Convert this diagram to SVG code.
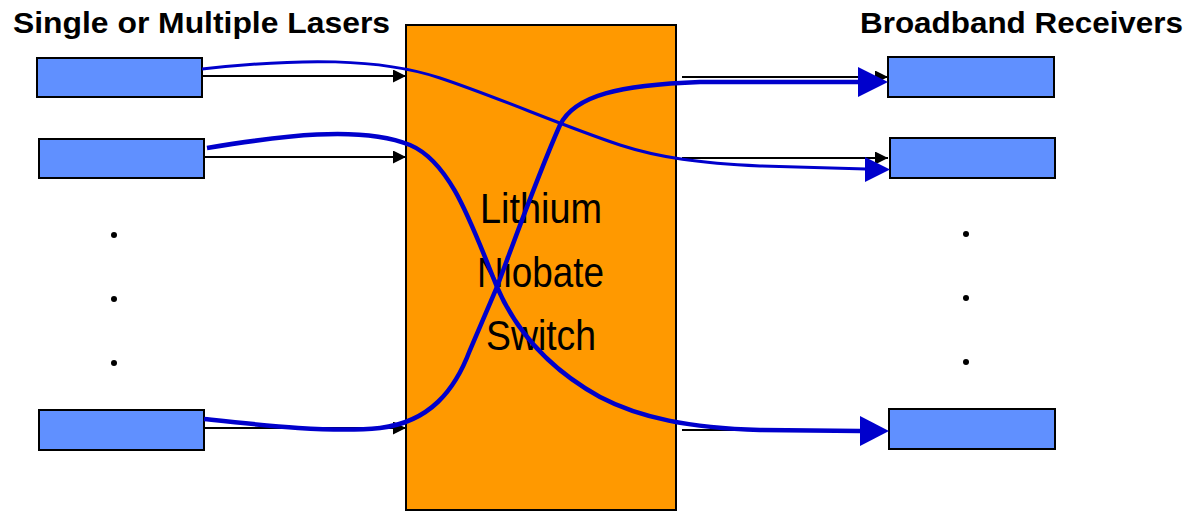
<svg xmlns="http://www.w3.org/2000/svg" width="1190" height="511" viewBox="0 0 1190 511">
<style>
.box{fill:#6090FF;stroke:#000;stroke-width:2}
.sw{fill:#FF9900;stroke:#000;stroke-width:2}
.blk{stroke:#000;stroke-width:2;fill:none}
.bl{stroke:#0000CC;fill:none;stroke-linecap:butt}
.ah{fill:#0000CC}
.title{font-family:"Liberation Sans",Arial,sans-serif;font-weight:bold;font-size:29px;fill:#000}
.lbl{font-family:"Liberation Sans Narrow","Liberation Sans",Arial,sans-serif;font-size:42px;fill:#000}
.dot{fill:#000}
</style>
<defs>
<marker id="ba" markerWidth="13" markerHeight="13" refX="13" refY="6.5" orient="auto" markerUnits="userSpaceOnUse">
<path d="M0,0 L13,6.5 L0,13 z" fill="#000"/>
</marker>
</defs>
<text class="title" x="13" y="33" textLength="377" lengthAdjust="spacingAndGlyphs">Single or Multiple Lasers</text>
<text class="title" x="860" y="33" textLength="323" lengthAdjust="spacingAndGlyphs">Broadband Receivers</text>
<g id="switch">
<rect class="sw" x="406" y="25" width="270" height="485"/>
<text class="lbl" x="480" y="223" textLength="122" lengthAdjust="spacingAndGlyphs">Lithium</text>
<text class="lbl" x="477" y="287" textLength="127" lengthAdjust="spacingAndGlyphs">Niobate</text>
<text class="lbl" x="486" y="350" textLength="110" lengthAdjust="spacingAndGlyphs">Switch</text>
</g>
<g id="laser1"><rect class="box" x="37" y="58" width="165" height="39"/></g>
<g id="laser2"><rect class="box" x="39" y="139" width="165" height="39"/></g>
<g id="laser3"><rect class="box" x="39" y="410" width="165" height="40"/></g>
<g id="rx1"><rect class="box" x="888" y="57" width="166" height="40"/></g>
<g id="rx2"><rect class="box" x="890" y="138" width="165" height="40"/></g>
<g id="rx3"><rect class="box" x="889" y="409" width="166" height="40"/></g>
<g id="dots">
<circle class="dot" cx="114" cy="235" r="3"/>
<circle class="dot" cx="114" cy="299" r="3"/>
<circle class="dot" cx="114" cy="363" r="3"/>
<circle class="dot" cx="966" cy="234" r="3"/>
<circle class="dot" cx="966" cy="298" r="3"/>
<circle class="dot" cx="966" cy="362" r="3"/>
</g>
<g id="connectors">
<line class="blk" x1="202" y1="76" x2="406" y2="76" marker-end="url(#ba)"/>
<line class="blk" x1="204" y1="157" x2="406" y2="157" marker-end="url(#ba)"/>
<line class="blk" x1="204" y1="428" x2="406" y2="428" marker-end="url(#ba)"/>
<line class="blk" x1="682" y1="77" x2="888" y2="77" marker-end="url(#ba)"/>
<line class="blk" x1="682" y1="158" x2="888" y2="158" marker-end="url(#ba)"/>
<line class="blk" x1="682" y1="430" x2="860" y2="430"/>
<path class="bl" stroke-width="3" d="M202,69 C300,58 380,58 440,78 C500,98 560,125 620,145 C660,158 700,163 760,166 L866,169"/>
<polygon class="ah" points="865,157 890,169.5 865,182"/>
<path class="bl" stroke-width="4.5" d="M207,148 C280,136 360,125 410,145 C450,162 470,220 497,287 C520,340 560,375 600,397 C640,418 690,428 760,430 L860,431"/>
<polygon class="ah" points="860,416 889,431 860,446"/>
<path class="bl" stroke-width="4.5" d="M204,419 C260,425 330,433 380,428 C430,422 455,390 470,350 L497,287 C520,225 540,170 560,125 C575,95 620,85 700,82 L858,82"/>
<polygon class="ah" points="858,67 888,82 858,97"/>
</g>
</svg>
